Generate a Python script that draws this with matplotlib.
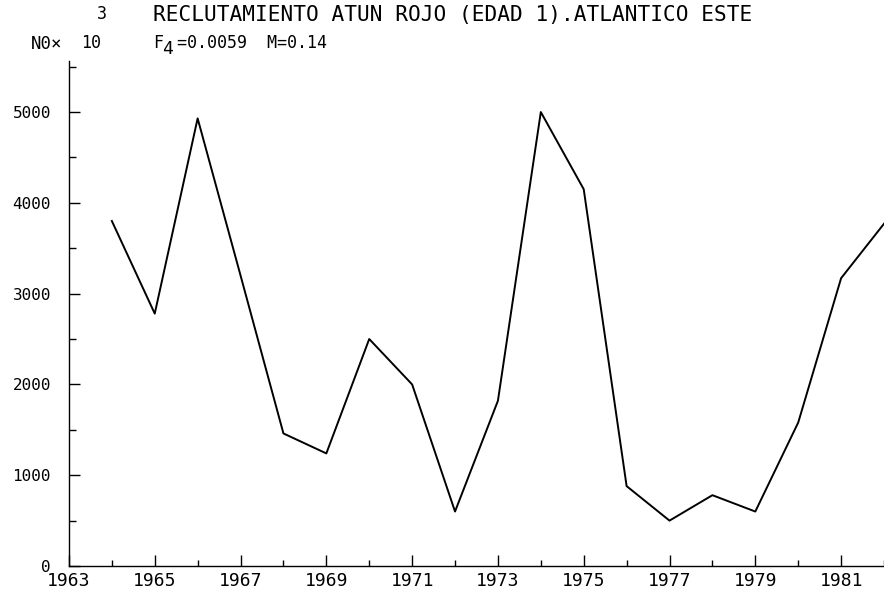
import matplotlib
matplotlib.use('Agg')
import matplotlib.pyplot as plt
from matplotlib.ticker import MultipleLocator

# Reclutamiento atun rojo (edad 1), miles de individuos
years = [1964, 1965, 1966, 1967, 1968, 1969, 1970, 1971, 1972, 1973,
         1974, 1975, 1976, 1977, 1978, 1979, 1980, 1981, 1982]
recruits = [3800, 2780, 4930, 3200, 1460, 1240, 2500, 2000, 600, 1820,
            5000, 4150, 880, 500, 780, 600, 1580, 3170, 3770]

year_ticks = list(range(1963, 1982, 2))
y_ticks = [0, 1000, 2000, 3000, 4000, 5000]

mono = 'DejaVu Sans Mono'
plt.rcParams['font.family'] = mono

fig = plt.figure(figsize=(8.84, 6.06), dpi=100)
ax = fig.add_axes([0.078, 0.066, 0.922, 0.833])

ax.plot(years, recruits, color='black', linewidth=1.4, clip_on=False)

ax.set_xlim(1963, 1982)
ax.set_ylim(0, 5560)
ax.spines['top'].set_visible(False)
ax.spines['right'].set_visible(False)
ax.spines['left'].set_linewidth(1.0)
ax.spines['bottom'].set_linewidth(1.0)

ax.set_xticks(year_ticks)
ax.set_xticklabels([str(y) for y in year_ticks])
ax.xaxis.set_minor_locator(MultipleLocator(1))
ax.set_yticks(y_ticks)
ax.set_yticklabels([str(v) for v in y_ticks])
ax.yaxis.set_minor_locator(MultipleLocator(500))

ax.tick_params(axis='both', which='both', direction='in', color='black')
ax.tick_params(axis='x', which='major', length=8, width=1, pad=4, labelsize=13)
ax.tick_params(axis='x', which='minor', length=4, width=1)
ax.tick_params(axis='y', which='major', length=8, width=1, pad=13, labelsize=11.5)
ax.tick_params(axis='y', which='minor', length=5, width=1)

fig.text(153 / 884, 1 - 15 / 606, 'RECLUTAMIENTO ATUN ROJO (EDAD 1).ATLANTICO ESTE',
         fontsize=15.2, va='center', ha='left')
fig.text(153 / 884, 1 - 43 / 606, 'F', fontsize=12, va='center', ha='left')
fig.text(162 / 884, 1 - 49 / 606, '4', fontsize=13, va='center', ha='left')
fig.text(177 / 884, 1 - 43 / 606, '=0.0059  M=0.14', fontsize=12, va='center', ha='left')

fig.text(62 / 884, 1 - 44 / 606, 'N0\u00d7', fontsize=12.5, va='center', ha='right')
fig.text(81 / 884, 1 - 43 / 606, '10', fontsize=12, va='center', ha='left')
fig.text(97 / 884, 1 - 14 / 606, '3', fontsize=12, va='center', ha='left')

fig.savefig('out.png', dpi=100)
